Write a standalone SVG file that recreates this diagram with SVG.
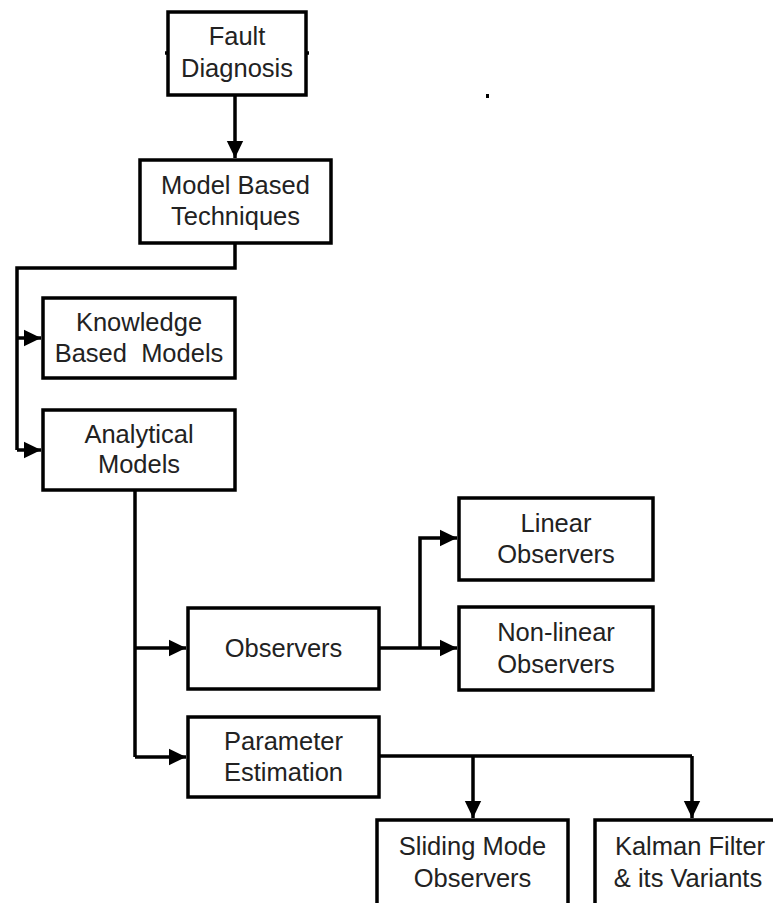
<svg xmlns="http://www.w3.org/2000/svg" width="773" height="903" viewBox="0 0 773 903">
<style>
.box{fill:#fff;stroke:#000;stroke-width:3.5}
.t{font-family:"Liberation Sans",Arial,sans-serif;font-size:25.5px;fill:#222;text-anchor:middle}
.c{fill:none;stroke:#000;stroke-width:3.5}
</style>
<defs>
<marker id="ah" markerWidth="6" markerHeight="6" refX="5" refY="3" orient="auto" markerUnits="strokeWidth" viewBox="0 0 6 6">
<path d="M0,0.6 L5,3 L0,5.4 Z" fill="#000"/>
</marker>
</defs>
<rect width="773" height="903" fill="#fff"/>
<g id="connectors">
<line class="c" x1="235" y1="96" x2="235" y2="158" marker-end="url(#ah)"/>
<polyline class="c" points="235,243 235,268 17,268 17,450"/>
<line class="c" x1="17" y1="338" x2="41" y2="338" marker-end="url(#ah)"/>
<line class="c" x1="17" y1="450" x2="41" y2="450" marker-end="url(#ah)"/>
<polyline class="c" points="135,490 135,757"/>
<line class="c" x1="135" y1="648" x2="186" y2="648" marker-end="url(#ah)"/>
<line class="c" x1="135" y1="757" x2="186" y2="757" marker-end="url(#ah)"/>
<line class="c" x1="379" y1="648" x2="457" y2="648" marker-end="url(#ah)"/>
<polyline class="c" points="420,648 420,538 457,538" marker-end="url(#ah)"/>
<polyline class="c" points="379,756 692,756"/>
<line class="c" x1="473" y1="756" x2="473" y2="818" marker-end="url(#ah)"/>
<line class="c" x1="692" y1="756" x2="692" y2="818" marker-end="url(#ah)"/>
<line class="c" x1="165" y1="53" x2="168" y2="53"/>
<line class="c" x1="306" y1="53" x2="309" y2="53"/>
<rect x="486" y="94" width="3" height="4" fill="#000"/>
</g>
<g id="fault">
<rect class="box" x="168" y="12" width="138" height="83"/>
<text class="t" x="237" y="45">Fault</text>
<text class="t" x="237" y="77">Diagnosis</text>
</g>
<g id="model">
<rect class="box" x="140" y="160" width="191" height="83"/>
<text class="t" x="235.5" y="194">Model Based</text>
<text class="t" x="235.5" y="225">Techniques</text>
</g>
<g id="knowledge">
<rect class="box" x="43" y="298" width="192" height="80"/>
<text class="t" x="139" y="331">Knowledge</text>
<text class="t" x="139" y="362" xml:space="preserve">Based  Models</text>
</g>
<g id="analytical">
<rect class="box" x="43" y="410" width="192" height="80"/>
<text class="t" x="139" y="443">Analytical</text>
<text class="t" x="139" y="473">Models</text>
</g>
<g id="observers">
<rect class="box" x="188" y="608" width="191" height="81"/>
<text class="t" x="283.5" y="657">Observers</text>
</g>
<g id="parameter">
<rect class="box" x="188" y="717" width="191" height="80"/>
<text class="t" x="283.5" y="750">Parameter</text>
<text class="t" x="283.5" y="781">Estimation</text>
</g>
<g id="linear">
<rect class="box" x="459" y="498" width="194" height="82"/>
<text class="t" x="556" y="532">Linear</text>
<text class="t" x="556" y="563">Observers</text>
</g>
<g id="nonlinear">
<rect class="box" x="459" y="607" width="194" height="83"/>
<text class="t" x="556" y="641">Non-linear</text>
<text class="t" x="556" y="673">Observers</text>
</g>
<g id="sliding">
<rect class="box" x="377" y="820" width="191" height="90"/>
<text class="t" x="472.5" y="855">Sliding Mode</text>
<text class="t" x="472.5" y="887">Observers</text>
</g>
<g id="kalman">
<rect class="box" x="595" y="820" width="195" height="90"/>
<text class="t" x="690" y="855">Kalman Filter</text>
<text class="t" x="688" y="887">&amp; its Variants</text>
</g>
</svg>
